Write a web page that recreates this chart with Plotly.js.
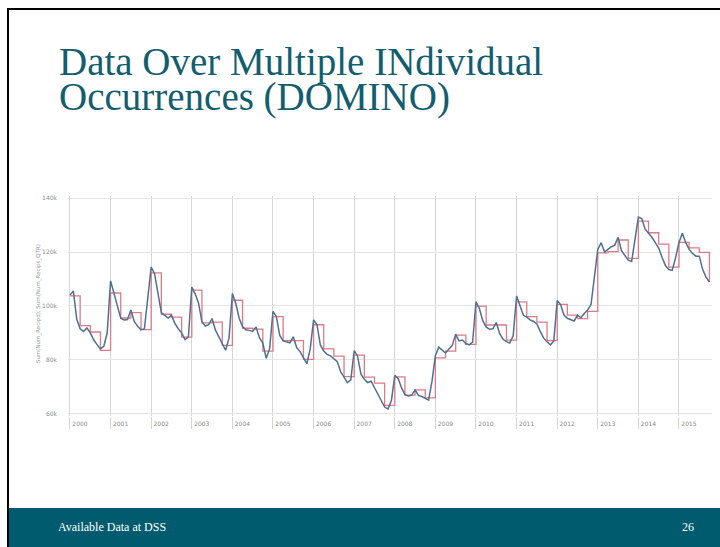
<!DOCTYPE html>
<html>
<head>
<meta charset="utf-8">
<script src="https://cdn.plot.ly/plotly-3.0.1.min.js"></script>
<style>
  html, body { margin: 0; padding: 0; background: #ffffff; }
  #chart { width: 720px; height: 547px; }
</style>
</head>
<body>
<div id="chart"></div>
<script>
// ---- Data (values in thousands) ----
const startYear = 2000;
const yearLabels = ['2000','2001','2002','2003','2004','2005','2006','2007',
                    '2008','2009','2010','2011','2012','2013','2014','2015'];
const yTickVals = [60000, 80000, 100000, 120000, 140000];
const yTickText = ['60k', '80k', '100k', '120k', '140k'];

// Sum(Num_Recips): monthly, Jan 2000 .. Oct 2015
const numRecips = [
  104.0, 105.5, 95.0, 91.5, 90.5, 91.8, 90.0, 87.4, 85.6, 84.0, 85.0, 90.0,   // 2000
  109.3, 104.5, 99.7, 95.4, 94.8, 94.9, 98.5, 94.2, 92.4, 91.1, 91.5, 102.1,  // 2001
  114.4, 112.0, 104.0, 97.5, 96.5, 95.5, 96.5, 93.5, 91.5, 90.0, 87.5, 88.5,  // 2002
  107.0, 104.5, 101.0, 94.0, 92.5, 93.0, 95.3, 91.0, 88.5, 86.0, 83.5, 88.0,  // 2003
  104.6, 100.9, 95.4, 92.3, 91.1, 90.9, 90.5, 92.2, 88.1, 86.2, 80.5, 84.0,   // 2004
  98.0, 96.0, 89.0, 87.0, 86.7, 86.3, 88.5, 84.5, 83.0, 80.5, 78.5, 84.0,     // 2005
  94.8, 93.0, 85.5, 83.2, 82.0, 81.4, 80.5, 79.3, 75.5, 73.5, 71.5, 72.5,     // 2006
  83.4, 81.3, 74.6, 72.7, 71.5, 72.0, 69.7, 67.2, 64.8, 62.4, 61.7, 64.8,     // 2007
  74.2, 73.0, 69.5, 67.0, 66.5, 66.8, 68.8, 66.7, 66.3, 65.8, 65.0, 72.0,     // 2008
  81.5, 84.7, 83.5, 82.5, 84.0, 85.3, 89.5, 87.0, 87.3, 86.0, 85.5, 86.5,     // 2009
  101.5, 99.0, 94.5, 92.2, 91.3, 91.5, 93.8, 89.7, 87.6, 86.7, 86.2, 89.0,    // 2010
  103.7, 100.0, 96.5, 95.8, 94.8, 94.2, 93.3, 90.5, 88.0, 86.7, 85.5, 87.0,   // 2011
  102.0, 100.5, 96.6, 95.4, 94.8, 94.4, 96.6, 95.6, 97.2, 98.5, 100.5, 112.0, // 2012
  121.0, 123.5, 120.0, 121.0, 122.0, 122.5, 125.5, 120.5, 118.5, 117.0, 116.5, 124.0, // 2013
  133.0, 132.5, 128.5, 127.0, 125.5, 123.5, 121.5, 118.0, 115.0, 113.5, 113.2, 118.0, // 2014
  123.6, 127.0, 123.5, 121.0, 119.5, 118.5, 118.5, 113.5, 110.7, 108.9                 // 2015
];

// Sum(Num_Recips_QTR): quarterly, Q1 2000 .. Q4 2015
const numRecipsQtr = [
  103.7, 92.7, 90.3, 83.5,   // 2000
  104.8, 95.5, 97.5, 91.2,   // 2001
  112.3, 96.9, 95.8, 88.4,   // 2002
  105.9, 93.7, 94.0, 85.3,   // 2003
  102.1, 91.7, 91.4, 83.2,   // 2004
  96.0, 87.1, 87.1, 80.1,    // 2005
  93.0, 84.0, 81.3, 73.7,    // 2006
  81.7, 73.5, 71.3, 63.0,    // 2007
  73.6, 66.8, 68.8, 65.8,    // 2008
  80.7, 83.2, 89.1, 85.7,    // 2009
  99.9, 92.9, 92.9, 87.3,    // 2010
  101.5, 96.0, 94.0, 87.1,   // 2011
  100.6, 96.6, 95.3, 98.0,   // 2012
  119.7, 120.2, 124.5, 117.7,// 2013
  131.5, 127.2, 123.0, 114.4,// 2014
  123.6, 121.6, 119.9, 108.9 // 2015
];

// ---- Build traces from the data ----
const xMonthly = numRecips.map((_, i) => startYear + i / 12);
const yMonthly = numRecips.map(v => v * 1000);
const xQtr = numRecipsQtr.map((_, i) => startYear + i / 4);
const yQtr = numRecipsQtr.map(v => v * 1000);
const yearTicks = yearLabels.map(s => Number(s));

// ---- Page geometry (pixels) ----
const W = 720, H = 547;
const L = 68, R = 8, T = 196, B = 131;
const PW = W - L - R, PH = H - T - B;
const px = p => (p - L) / PW;          // pixel x -> paper x
const py = p => (H - B - p) / PH;      // pixel y -> paper y

const traces = [
  {
    type: 'scatter', mode: 'lines', name: 'Sum(Num_Recips_QTR)',
    x: xQtr, y: yQtr,
    line: { color: '#e07a86', width: 1.3, shape: 'hv' },
    hoverinfo: 'skip'
  },
  {
    type: 'scatter', mode: 'lines', name: 'Sum(Num_Recips)',
    x: xMonthly, y: yMonthly,
    line: { color: '#4d7193', width: 1.5 },
    hoverinfo: 'skip'
  }
];

const serif = 'Liberation Serif, Times New Roman, serif';
const tickFont = { family: 'DejaVu Sans, sans-serif', size: 6, color: '#8a8a8a' };

const layout = {
  width: W, height: H,
  margin: { l: L, r: R, t: T, b: B, pad: 0 },
  paper_bgcolor: '#ffffff',
  plot_bgcolor: '#ffffff',
  showlegend: false,
  xaxis: {
    range: [1999.951, 2015.813],
    tickmode: 'array', tickvals: yearTicks, ticktext: yearLabels,
    showgrid: true, gridcolor: '#d6d6d6', gridwidth: 1,
    zeroline: false, showline: false,
    ticks: 'outside', ticklen: 12, tickcolor: '#d6d6d6', tickwidth: 1,
    ticklabelshift: 10, ticklabelstandoff: -10,
    tickfont: tickFont,
    fixedrange: true
  },
  yaxis: {
    range: [59070, 140855],
    tickmode: 'array', tickvals: yTickVals, ticktext: yTickText,
    showgrid: true, gridcolor: '#e4e4e4', gridwidth: 1,
    zeroline: false, showline: false,
    ticks: '', ticklabelstandoff: 10,
    tickfont: tickFont,
    fixedrange: true
  },
  shapes: [
    // slide frame lines
    { type: 'line', xref: 'paper', yref: 'paper', x0: px(7), x1: px(720), y0: py(9), y1: py(9),
      line: { color: '#000000', width: 2 } },
    { type: 'line', xref: 'paper', yref: 'paper', x0: px(8), x1: px(8), y0: py(8), y1: py(547),
      line: { color: '#000000', width: 2 } },
    // footer band
    { type: 'rect', xref: 'paper', yref: 'paper', x0: px(9), x1: px(721), y0: py(508), y1: py(548),
      fillcolor: '#005b6e', line: { width: 0 }, layer: 'below' }
  ],
  annotations: [
    { xref: 'paper', yref: 'paper', x: px(57), y: py(62), xanchor: 'left', yanchor: 'middle',
      showarrow: false, text: 'Data Over Multiple INdividual',
      font: { family: serif, size: 39, color: '#125d6e' } },
    { xref: 'paper', yref: 'paper', x: px(57), y: py(97), xanchor: 'left', yanchor: 'middle',
      showarrow: false, text: 'Occurrences (DOMINO)',
      font: { family: serif, size: 39, color: '#125d6e' } },
    { xref: 'paper', yref: 'paper', x: px(38), y: py(304), xanchor: 'center', yanchor: 'middle',
      showarrow: false, textangle: -90, text: 'Sum(Num_Recipd), Sum(Num_Recips_QTR)',
      font: { family: 'DejaVu Sans, sans-serif', size: 5.5, color: '#9a9a9a' } },
    { xref: 'paper', yref: 'paper', x: px(56), y: py(527), xanchor: 'left', yanchor: 'middle',
      showarrow: false, text: 'Available Data at DSS',
      font: { family: serif, size: 12, color: '#ffffff' } },
    { xref: 'paper', yref: 'paper', x: px(696), y: py(527), xanchor: 'right', yanchor: 'middle',
      showarrow: false, text: '26',
      font: { family: serif, size: 12, color: '#ffffff' } }
  ]
};

Plotly.newPlot('chart', traces, layout, { displayModeBar: false, staticPlot: true });
</script>
</body>
</html>
